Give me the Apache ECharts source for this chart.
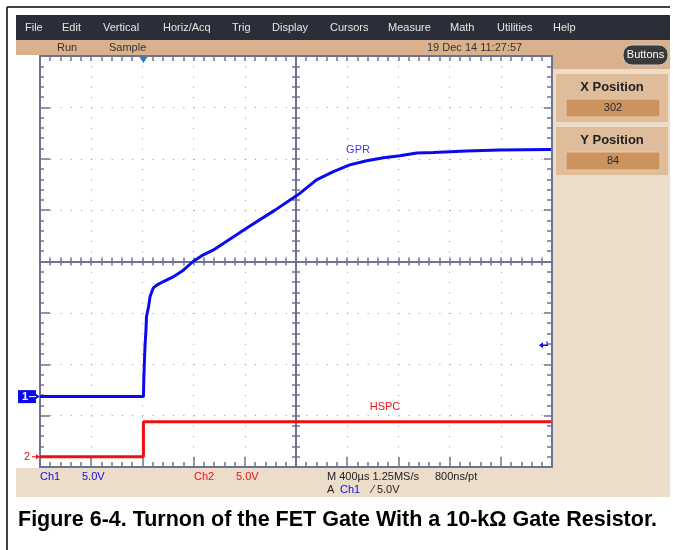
<!DOCTYPE html>
<html>
<head>
<meta charset="utf-8">
<script src="https://cdn.jsdelivr.net/npm/echarts@6/dist/echarts.min.js"></script>
<style>
  html, body { margin: 0; padding: 0; background: #fff; }
  #chart { width: 673px; height: 550px; }
</style>
</head>
<body>
<div id="chart"></div>
<script>
// scope screen in divisions: x -5..5 (400us/div), y -4..4 (5V/div)
const ch1X = [-5, -2.98, -2.97, -2.95, -2.93, -2.92, -2.88, -2.85, -2.79, -2.72, -2.59, -2.40, -2.20,
  -2.01, -1.81, -1.62, -0.90, -0.41, 0.08, 0.40, 0.73, 1.05, 1.38, 1.71, 2.03, 2.36, 2.68, 3.33, 3.98, 4.98];
const ch1Y = [-2.63, -2.63, -2.21, -1.66, -1.33, -1.07, -0.88, -0.68, -0.52, -0.46, -0.39, -0.30, -0.17,
  0.00, 0.13, 0.22, 0.69, 1.00, 1.33, 1.59, 1.75, 1.88, 1.96, 2.02, 2.06, 2.11, 2.12, 2.15, 2.17, 2.18];
const ch2X = [-5, -2.98, -2.98, 4.98];
const ch2Y = [-3.80, -3.80, -3.12, -3.12];
const ch1Ground = -2.63;
const ch2Ground = -3.80;
const trigTime = -2.98;
const trigLevel = -1.63;
const menuItems = ['File', 'Edit', 'Vertical', 'Horiz/Acq', 'Trig', 'Display', 'Cursors', 'Measure', 'Math', 'Utilities', 'Help'];

const gridCol = '#6e7394';
const dotCol = '#8d92ad';
const blue = '#0a0af0';
const red = '#f01010';
const uiFont = '11px "Liberation Sans", Arial, sans-serif';

const chart = echarts.init(document.getElementById('chart'));

function tickAxis(extra) {
  return Object.assign({
    type: 'value', min: -5, max: 5, interval: 1,
    axisLabel: { show: false },
    splitLine: { show: false },
    axisLine: { onZero: false, lineStyle: { color: gridCol, width: 2 } },
    axisTick: { inside: true, length: 5, lineStyle: { color: gridCol, width: 1.5 } },
    minorTick: { show: true, splitNumber: 5, length: 5, lineStyle: { color: gridCol, width: 1.5 } }
  }, extra);
}

const xAxes = [
  tickAxis({ position: 'bottom', axisTick: { inside: true, length: 10, lineStyle: { color: gridCol, width: 1.5 } },
    splitLine: { show: true, lineStyle: { color: dotCol, width: 1, type: [1, 9.275] } } }),
  tickAxis({ position: 'top' }),
  tickAxis({ position: 'bottom', axisLine: { onZero: true, onZeroAxisIndex: 0, lineStyle: { color: gridCol, width: 2 } },
    axisTick: { inside: true, length: 4, lineStyle: { color: gridCol, width: 1.5 } },
    minorTick: { show: true, splitNumber: 5, length: 4, lineStyle: { color: gridCol, width: 1.5 } } }),
  tickAxis({ position: 'bottom', axisLine: { onZero: true, onZeroAxisIndex: 0, lineStyle: { color: gridCol, width: 2 } },
    axisTick: { inside: false, length: 4, lineStyle: { color: gridCol, width: 1.5 } },
    minorTick: { show: true, splitNumber: 5, length: 4, lineStyle: { color: gridCol, width: 1.5 } } })
];
const yAxes = [
  tickAxis({ min: -4, max: 4, position: 'left', axisTick: { inside: true, length: 10, lineStyle: { color: gridCol, width: 1.5 } },
    minorTick: { show: true, splitNumber: 5, length: 4, lineStyle: { color: gridCol, width: 1.5 } },
    splitLine: { show: true, lineStyle: { color: dotCol, width: 1, type: [1, 9.24] } } }),
  tickAxis({ min: -4, max: 4, position: 'right', axisTick: { inside: true, length: 8, lineStyle: { color: gridCol, width: 1.5 } } }),
  tickAxis({ min: -4, max: 4, position: 'left', axisLine: { onZero: true, onZeroAxisIndex: 0, lineStyle: { color: gridCol, width: 2 } },
    axisTick: { inside: true, length: 4, lineStyle: { color: gridCol, width: 1.5 } },
    minorTick: { show: true, splitNumber: 5, length: 4, lineStyle: { color: gridCol, width: 1.5 } } }),
  tickAxis({ min: -4, max: 4, position: 'left', axisLine: { onZero: true, onZeroAxisIndex: 0, lineStyle: { color: gridCol, width: 2 } },
    axisTick: { inside: false, length: 4, lineStyle: { color: gridCol, width: 1.5 } },
    minorTick: { show: true, splitNumber: 5, length: 4, lineStyle: { color: gridCol, width: 1.5 } } })
];

chart.setOption({
  animation: false,
  backgroundColor: '#fff',
  grid: { left: 40, top: 56, right: 121, bottom: 83, show: false },
  xAxis: xAxes,
  yAxis: yAxes,
  series: [
    {
      name: 'GPR', type: 'line', xAxisIndex: 0, yAxisIndex: 0, showSymbol: false, z: 5,
      data: ch1X.map((x, i) => [x, ch1Y[i]]),
      lineStyle: { color: blue, width: 3 }
    },
    {
      name: 'HSPC', type: 'line', xAxisIndex: 0, yAxisIndex: 0, showSymbol: false, z: 4,
      data: ch2X.map((x, i) => [x, ch2Y[i]]),
      lineStyle: { color: red, width: 3 }
    }
  ]
});

const px = p => chart.convertToPixel({ xAxisIndex: 0, yAxisIndex: 0 }, p);
const g1 = px([-5, ch1Ground]);
const g2 = px([-5, ch2Ground]);
const trg = px([trigTime, 4]);
const lvl = px([5, trigLevel]);

function txt(text, x, y, fill, font, align) {
  return { type: 'text', x: x, y: y, z: 20,
    style: { text: text, fill: fill, font: font || uiFont, align: align || 'left', verticalAlign: 'middle' } };
}

const menuX = [25, 62, 103, 163, 232, 272, 330, 388, 450, 497, 553];
const graphic = [
  // frame
  { type: 'line', shape: { x1: 7, y1: 7, x2: 670, y2: 7 }, style: { stroke: '#000', lineWidth: 1.5 } },
  { type: 'line', shape: { x1: 7, y1: 7, x2: 7, y2: 550 }, style: { stroke: '#000', lineWidth: 1.5 } },
  // menu bar and status strip
  { type: 'rect', shape: { x: 16, y: 15, width: 654, height: 25 }, style: { fill: '#2b2e38' } },
  { type: 'rect', shape: { x: 16, y: 40, width: 654, height: 15 }, style: { fill: '#d9b18d' } },
  // right panel
  { type: 'rect', shape: { x: 553, y: 55, width: 117, height: 442 }, style: { fill: '#ecdcca' } },
  { type: 'rect', shape: { x: 553, y: 55, width: 117, height: 14 }, style: { fill: '#d9b18d' } },
  { type: 'rect', shape: { x: 556, y: 74, width: 112, height: 48 }, style: { fill: '#dfbd9a' } },
  { type: 'rect', shape: { x: 556, y: 127, width: 112, height: 48 }, style: { fill: '#dfbd9a' } },
  { type: 'rect', shape: { x: 566, y: 99, width: 94, height: 18 }, style: { fill: '#cc935f', stroke: '#e8c9a6', lineWidth: 1 } },
  { type: 'rect', shape: { x: 566, y: 152, width: 94, height: 18 }, style: { fill: '#cc935f', stroke: '#e8c9a6', lineWidth: 1 } },
  { type: 'rect', shape: { x: 623, y: 45, width: 45, height: 20, r: 9 }, style: { fill: '#3a3a3a', stroke: '#c8c8c8', lineWidth: 1 } },
  txt('Buttons', 645.5, 55, '#fff', uiFont, 'center'),
  txt('X Position', 612, 87, '#1e1e1e', 'bold 13px "Liberation Sans", Arial, sans-serif', 'center'),
  txt('302', 613, 108, '#2a2a2a', uiFont, 'center'),
  txt('Y Position', 612, 140, '#1e1e1e', 'bold 13px "Liberation Sans", Arial, sans-serif', 'center'),
  txt('84', 613, 161, '#2a2a2a', uiFont, 'center'),
  // bottom strip
  { type: 'rect', shape: { x: 16, y: 468, width: 654, height: 29 }, style: { fill: '#ecdcca' } },
  txt('Ch1', 40, 477, blue),
  txt('5.0V', 82, 477, blue),
  txt('Ch2', 194, 477, red),
  txt('5.0V', 236, 477, red),
  txt('M 400\u00b5s 1.25MS/s', 327, 477, '#222'),
  txt('800ns/pt', 435, 477, '#222'),
  txt('A', 327, 490, '#222'),
  txt('Ch1', 340, 490, blue),
  txt('\u2044 5.0V', 372, 490, '#222'),
  // status
  txt('Run', 57, 48, '#333'),
  txt('Sample', 109, 48, '#333'),
  txt('19 Dec 14 11:27:57', 427, 48, '#333'),
  // trace labels
  txt('GPR', 358, 150, '#3c3cf5', uiFont, 'center'),
  txt('HSPC', 385, 407, red, uiFont, 'center'),
  // channel ground markers
  { type: 'rect', shape: { x: 18, y: g1[1] - 6.5, width: 18, height: 13 }, style: { fill: blue }, z: 20 },
  txt('1', 22, g1[1], '#fff', 'bold 11px "Liberation Sans", Arial, sans-serif'),
  { type: 'line', shape: { x1: 29, y1: g1[1], x2: 40, y2: g1[1] }, style: { stroke: '#fff', lineWidth: 1 }, z: 21 },
  { type: 'polygon', shape: { points: [[40, g1[1]], [36, g1[1] - 2.5], [36, g1[1] + 2.5]] }, style: { fill: blue }, z: 21 },
  txt('2', 24, g2[1], red, '11px "Liberation Sans", Arial, sans-serif'),
  { type: 'line', shape: { x1: 32, y1: g2[1], x2: 40, y2: g2[1] }, style: { stroke: red, lineWidth: 1 }, z: 21 },
  { type: 'polygon', shape: { points: [[40, g2[1]], [36, g2[1] - 2.5], [36, g2[1] + 2.5]] }, style: { fill: red }, z: 21 },
  // trigger position and level
  { type: 'polygon', shape: { points: [[trg[0] - 4, trg[1] + 1], [trg[0] + 4, trg[1] + 1], [trg[0], trg[1] + 7]] }, style: { fill: '#1a80d8' }, z: 21 },
  { type: 'line', shape: { x1: lvl[0] - 12, y1: lvl[1], x2: lvl[0] - 4, y2: lvl[1] }, style: { stroke: blue, lineWidth: 1.5 }, z: 21 },
  { type: 'polygon', shape: { points: [[lvl[0] - 13, lvl[1]], [lvl[0] - 9, lvl[1] - 3], [lvl[0] - 9, lvl[1] + 3]] }, style: { fill: blue }, z: 21 },
  { type: 'line', shape: { x1: lvl[0] - 5, y1: lvl[1] - 4, x2: lvl[0] - 5, y2: lvl[1] }, style: { stroke: blue, lineWidth: 1 }, z: 21 },
  // caption
  txt('Figure 6-4. Turnon of the FET Gate With a 10-k\u03a9 Gate Resistor.', 18, 520, '#000',
    'bold 21.5px "Liberation Sans", Arial, sans-serif')
];
menuItems.forEach((m, i) => graphic.push(txt(m, menuX[i], 28, '#e6e6e6')));

chart.setOption({ graphic: graphic });
</script>
</body>
</html>
